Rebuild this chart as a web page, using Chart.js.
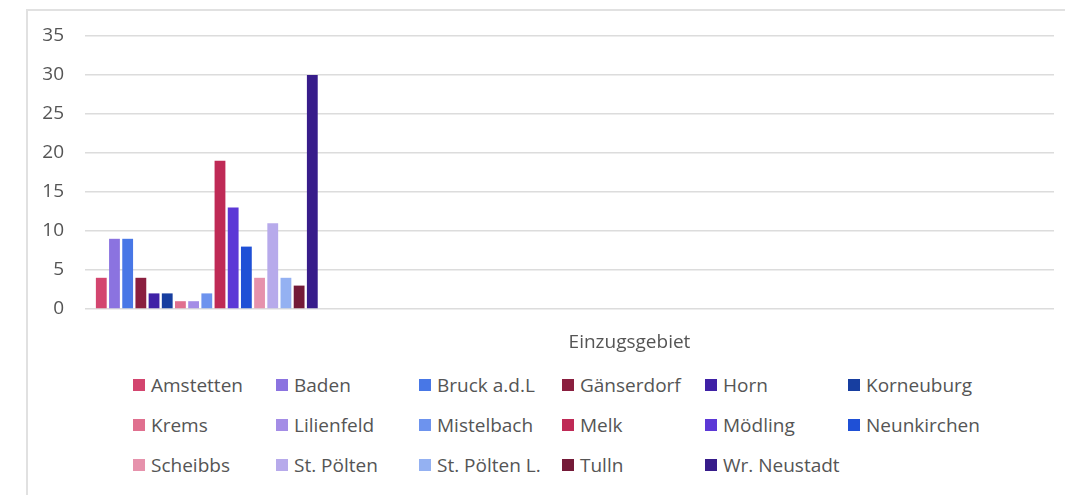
<!DOCTYPE html>
<html>
<head>
<meta charset="utf-8">
<script src="https://cdn.jsdelivr.net/npm/chart.js@4.4.0/dist/chart.umd.min.js"></script>
<style>
  body { margin: 0; background: #fff; width: 1065px; height: 495px; overflow: hidden; position: relative; font-family: "Open Sans", sans-serif; }
  #frame { position: absolute; left: 26px; top: 9px; width: 1100px; height: 600px; border-left: 2px solid #e1e1e1; border-top: 2px solid #e1e1e1; }
  #chart_Einzug { position: absolute; left: 0; top: 0; }
  #legend { position: absolute; left: 133px; top: 365px; width: 860px; display: grid; grid-template-columns: repeat(6, 143px); grid-auto-rows: 40px; }
  .item { display: flex; align-items: center; font-size: 19px; color: #555; white-space: nowrap; }
  .box { width: 12px; height: 12px; margin-right: 6px; flex: none; }
</style>
</head>
<body>
<div id="frame"></div>
<canvas id="chart_Einzug" width="1065" height="355"></canvas>
<div id="legend"></div>
<script>
var categories = ["Einzugsgebiet"];
var regions = ["Amstetten", "Baden", "Bruck a.d.L", "Gänserdorf", "Horn", "Korneuburg",
  "Krems", "Lilienfeld", "Mistelbach", "Melk", "Mödling", "Neunkirchen",
  "Scheibbs", "St. Pölten", "St. Pölten L.", "Tulln", "Wr. Neustadt"];
var counts = [4, 9, 9, 4, 2, 2, 1, 1, 2, 19, 13, 8, 4, 11, 4, 3, 30];
var colors = ["#d3456f", "#8b73e0", "#4877e6", "#8a1f3f", "#3f21a6", "#173ea0",
  "#e0708f", "#a48de6", "#6d93ee", "#bf2a56", "#5c38d6", "#1f50d6",
  "#e692ac", "#b7aaeb", "#94b1f2", "#741a38", "#371c8a"];
var yTicks = { min: 0, max: 35, step: 5 };
// excel left room for more series in the group, keep the slots empty
var emptySlots = 55;

function buildDatasets() {
  var sets = [];
  for (var i = 0; i < regions.length; i++) {
    sets.push({
      label: regions[i],
      data: [counts[i]],
      backgroundColor: colors[i],
      borderWidth: 0,
      barPercentage: 0.82,
      categoryPercentage: 0.98
    });
  }
  for (var j = 0; j < emptySlots; j++) {
    sets.push({ label: "", data: [], barPercentage: 0.82, categoryPercentage: 0.98 });
  }
  return sets;
}

function buildLegend(chart) {
  var legend = document.getElementById("legend");
  chart.data.datasets.forEach(function (ds) {
    if (!ds.label) return;
    var item = document.createElement("div");
    item.className = "item";
    var box = document.createElement("span");
    box.className = "box";
    box.style.background = ds.backgroundColor;
    item.appendChild(box);
    item.appendChild(document.createTextNode(ds.label));
    legend.appendChild(item);
  });
}

var chart = new Chart(document.getElementById("chart_Einzug"), {
  type: "bar",
  data: {
    labels: categories,
    datasets: buildDatasets()
  },
  options: {
    responsive: false,
    animation: false,
    layout: { padding: { top: 36, right: 11, left: 0, bottom: 0 } },
    plugins: {
      legend: { display: false },
      tooltip: { enabled: false }
    },
    scales: {
      x: {
        grid: { display: false },
        border: { display: false },
        ticks: { color: "#555", font: { family: "Open Sans", size: 19 }, padding: 14, labelOffset: 60 },
        afterFit: function (scale) { scale.height = 46; }
      },
      y: {
        min: yTicks.min,
        max: yTicks.max,
        grid: { color: "#dcdcdc", lineWidth: 1.5, drawTicks: false },
        border: { display: false },
        ticks: { stepSize: yTicks.step, color: "#555", font: { family: "Open Sans", size: 19 }, padding: 21 },
        afterFit: function (scale) { scale.width = 85; }
      }
    }
  }
});
buildLegend(chart);
</script>
</body>
</html>
